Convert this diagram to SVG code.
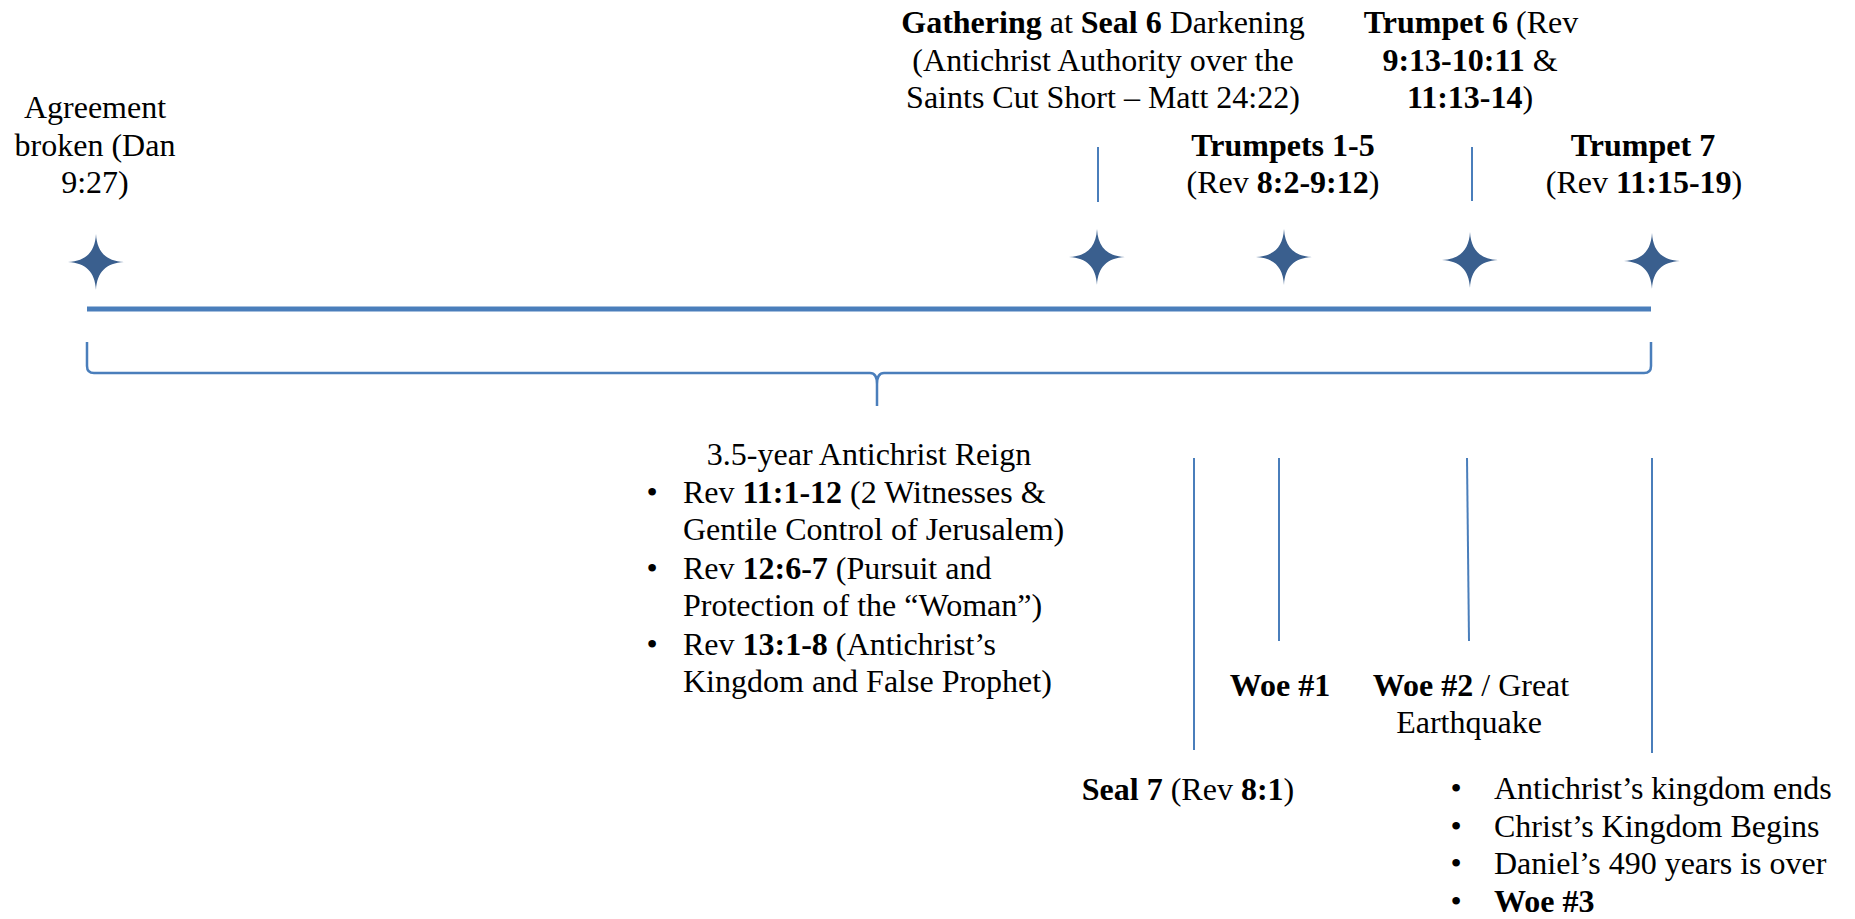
<svg xmlns="http://www.w3.org/2000/svg" width="1855" height="919" viewBox="0 0 1855 919">
<style>
  text { font-family: "Liberation Serif", "Times New Roman", serif; font-size: 32px; fill: #000; }
  .c { text-anchor: middle; }
  .b { font-weight: bold; }
  .star { fill: #3A5F8E; }
  .conn { stroke: #4A7EBB; stroke-width: 2; fill: none; }
  .axis { stroke: #4A7EBB; stroke-width: 5; fill: none; }
  .brace { stroke: #4A7EBB; stroke-width: 2.5; fill: none; }
</style>
<defs>
  <path id="star4" d="M0,-28 C1,-10 10,-1 28,0 C10,1 1,10 0,28 C-1,10 -10,1 -28,0 C-10,-1 -1,-10 0,-28 Z"/>
</defs>
<rect width="1855" height="919" fill="#fff"/>

<g id="timeline">
  <line class="axis" x1="87" y1="309" x2="1651" y2="309"/>
</g>

<g id="brace">
  <path class="brace" d="M87,342 V366 Q87,373 94,373 H870 Q877,373 877,384 V406 V384 Q877,373 884,373 H1644 Q1651,373 1651,366 V342"/>
</g>

<g id="connectors">
  <line class="conn" x1="1098" y1="147" x2="1098" y2="202"/>
  <line class="conn" x1="1472" y1="147" x2="1472" y2="201"/>
  <line class="conn" x1="1194" y1="458" x2="1194" y2="750"/>
  <line class="conn" x1="1279" y1="458" x2="1279" y2="641"/>
  <line class="conn" x1="1467" y1="458" x2="1469" y2="641"/>
  <line class="conn" x1="1652" y1="458" x2="1652" y2="753"/>
</g>

<g id="agreement">
  <use href="#star4" class="star" x="96" y="262"/>
  <text class="c" x="95" y="118">Agreement</text>
  <text class="c" x="95" y="155.5">broken (Dan</text>
  <text class="c" x="95" y="193">9:27)</text>
</g>

<g id="gathering">
  <use href="#star4" class="star" x="1097" y="257"/>
  <text class="c" x="1103" y="33"><tspan class="b">Gathering</tspan> at <tspan class="b">Seal 6</tspan> Darkening</text>
  <text class="c" x="1103" y="71">(Antichrist Authority over the</text>
  <text class="c" x="1103" y="108">Saints Cut Short – Matt 24:22)</text>
</g>

<g id="trumpets15">
  <use href="#star4" class="star" x="1284" y="257"/>
  <text class="c b" x="1283" y="156">Trumpets 1-5</text>
  <text class="c" x="1283" y="193">(Rev <tspan class="b">8:2-9:12</tspan>)</text>
</g>

<g id="trumpet6">
  <use href="#star4" class="star" x="1470" y="260"/>
  <text class="c" x="1471" y="33"><tspan class="b">Trumpet 6</tspan> (Rev</text>
  <text class="c" x="1470" y="71"><tspan class="b">9:13-10:11</tspan> &amp;</text>
  <text class="c" x="1470" y="108"><tspan class="b">11:13-14</tspan>)</text>
</g>

<g id="trumpet7">
  <use href="#star4" class="star" x="1652" y="261"/>
  <text class="c b" x="1643" y="156">Trumpet 7</text>
  <text class="c" x="1644" y="193">(Rev <tspan class="b">11:15-19</tspan>)</text>
</g>

<g id="reign">
  <text class="c" x="869" y="465">3.5-year Antichrist Reign</text>
  <text class="c" x="652" y="503">•</text>
  <text x="683" y="503">Rev <tspan class="b">11:1-12</tspan> (2 Witnesses &amp;</text>
  <text x="683" y="540">Gentile Control of Jerusalem)</text>
  <text class="c" x="652" y="579">•</text>
  <text x="683" y="579">Rev <tspan class="b">12:6-7</tspan> (Pursuit and</text>
  <text x="683" y="616">Protection of the “Woman”)</text>
  <text class="c" x="652" y="655">•</text>
  <text x="683" y="655">Rev <tspan class="b">13:1-8</tspan> (Antichrist’s</text>
  <text x="683" y="692">Kingdom and False Prophet)</text>
</g>

<g id="seal7">
  <text class="c" x="1188" y="800"><tspan class="b">Seal 7</tspan> (Rev <tspan class="b">8:1</tspan>)</text>
</g>

<g id="woe1">
  <text class="c b" x="1280" y="696">Woe #1</text>
</g>

<g id="woe2">
  <text class="c" x="1471" y="696"><tspan class="b">Woe #2</tspan> / Great</text>
  <text class="c" x="1469" y="733">Earthquake</text>
</g>

<g id="end-list">
  <text class="c" x="1456" y="799">•</text>
  <text x="1494" y="799">Antichrist’s kingdom ends</text>
  <text class="c" x="1456" y="836.5">•</text>
  <text x="1494" y="836.5">Christ’s Kingdom Begins</text>
  <text class="c" x="1456" y="874">•</text>
  <text x="1494" y="874">Daniel’s 490 years is over</text>
  <text class="c" x="1456" y="911.5">•</text>
  <text class="b" x="1494" y="911.5">Woe #3</text>
</g>
</svg>
